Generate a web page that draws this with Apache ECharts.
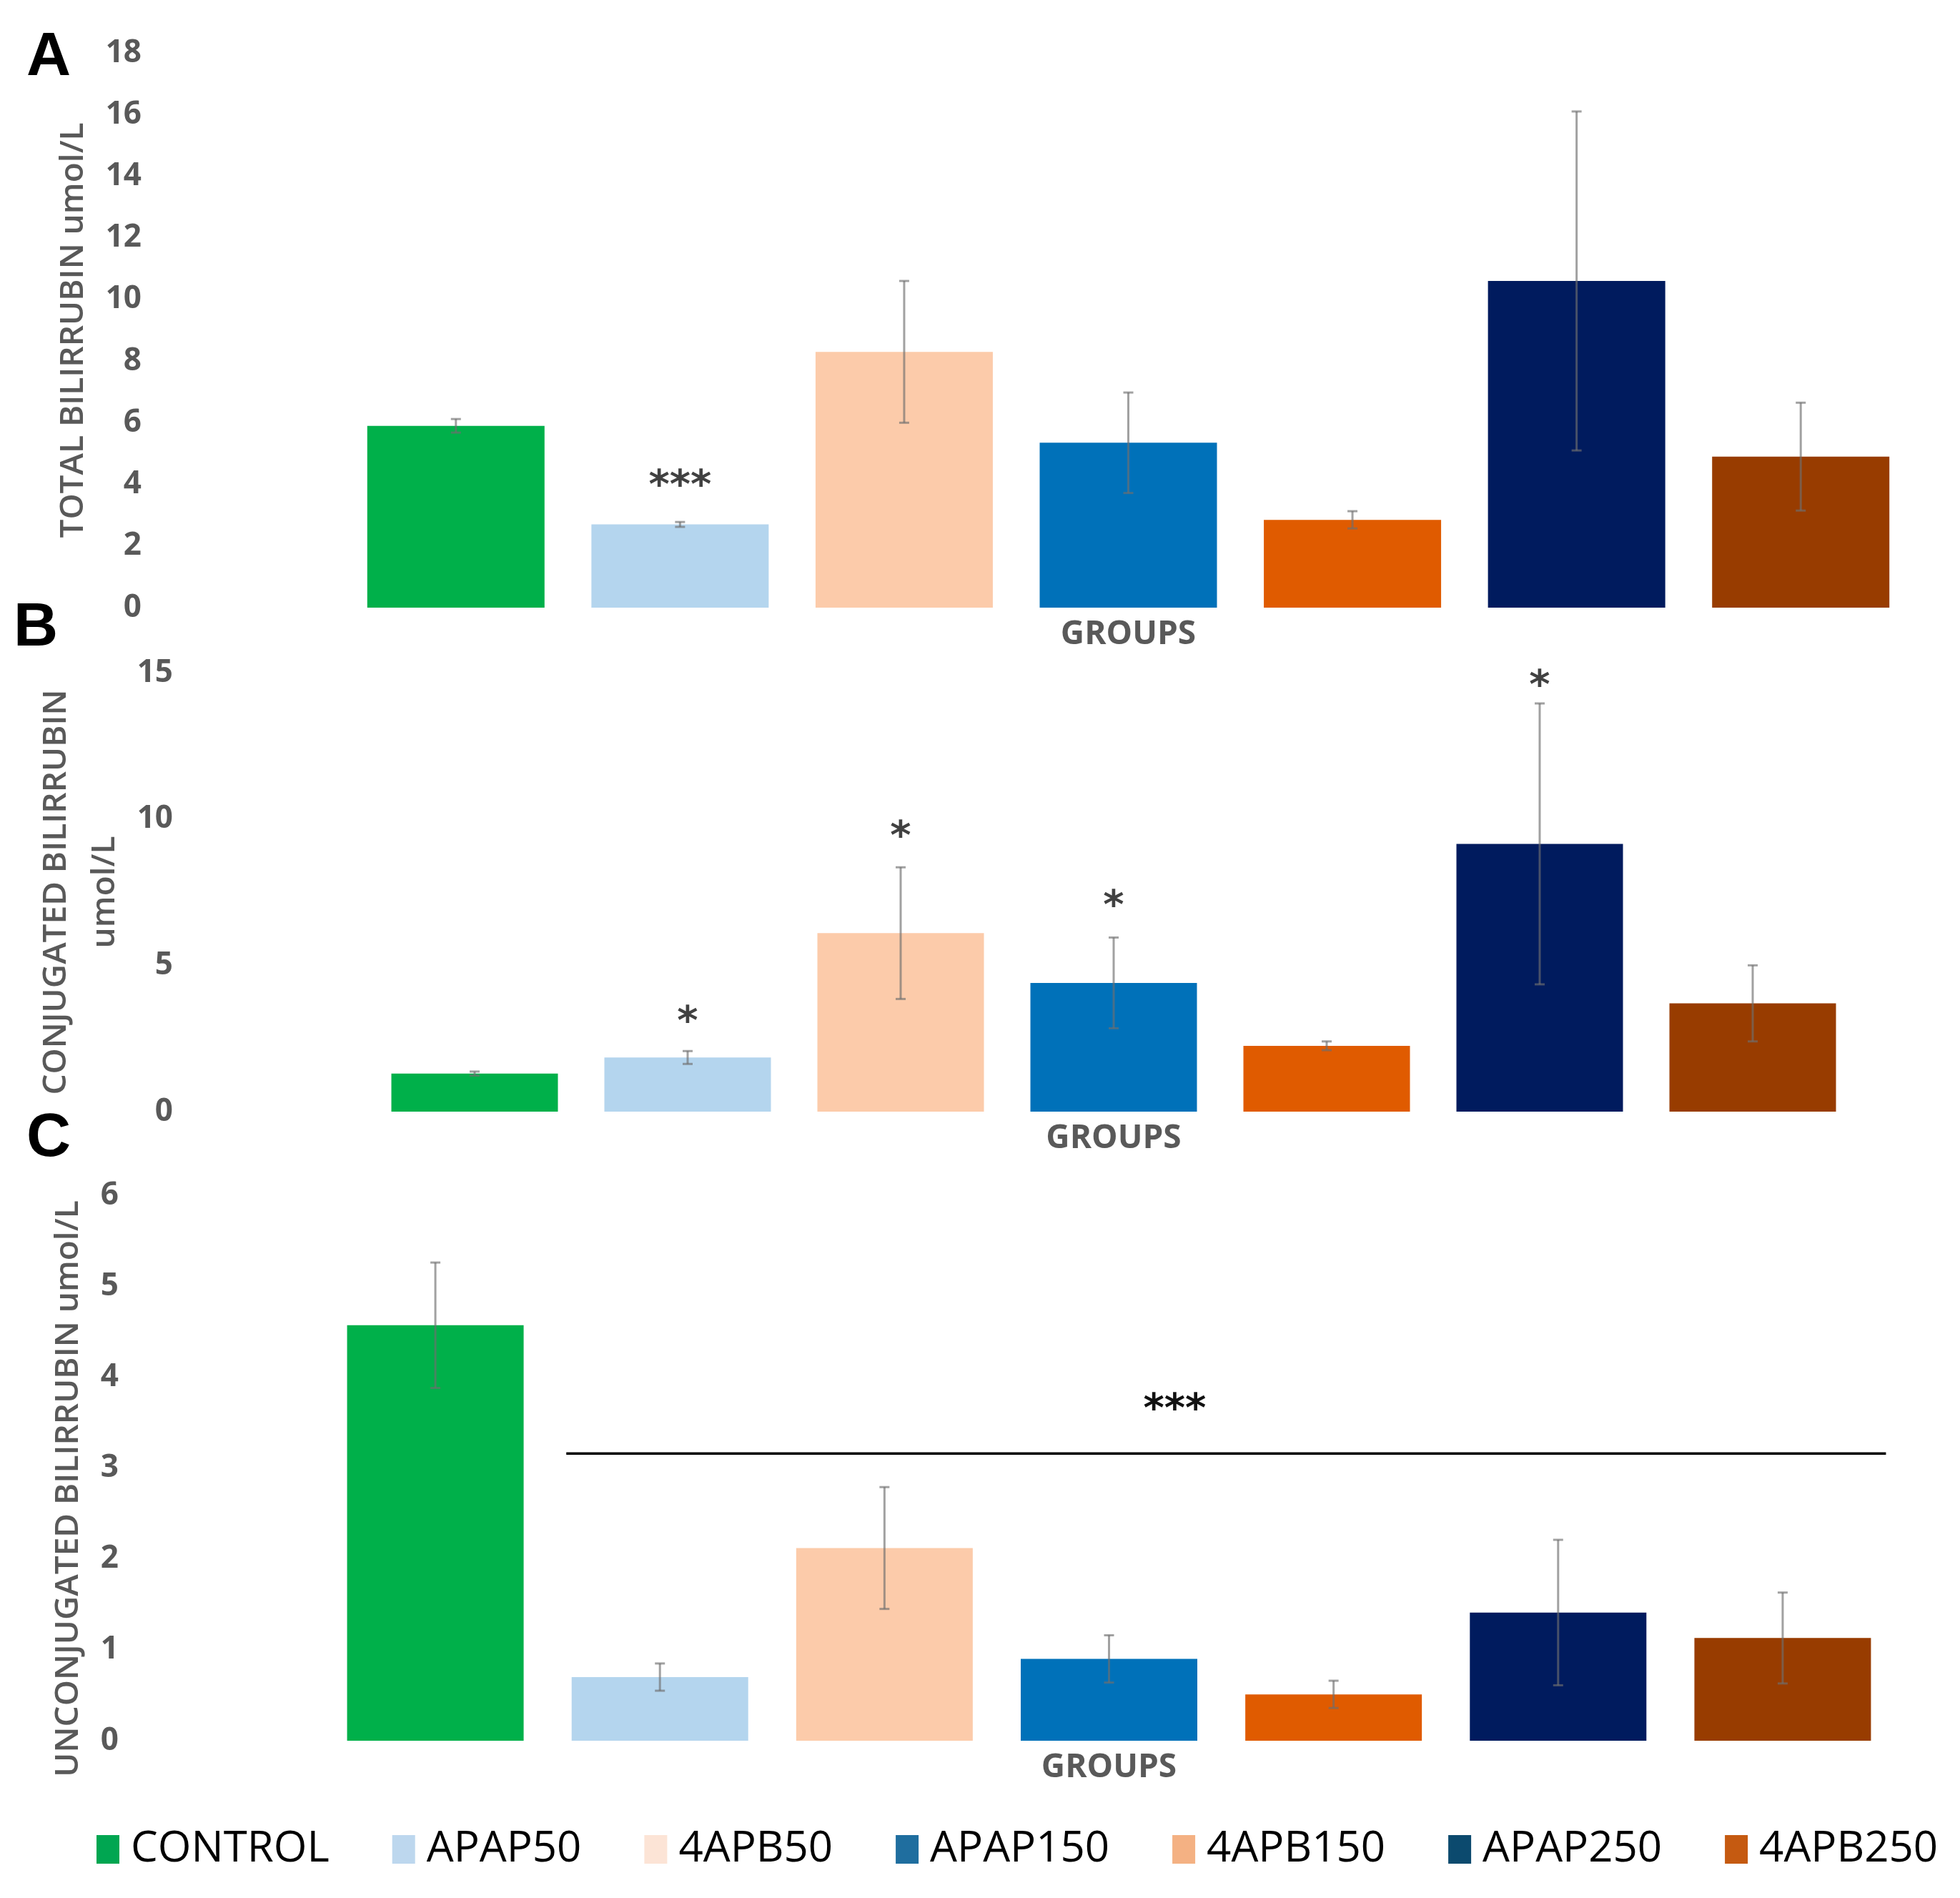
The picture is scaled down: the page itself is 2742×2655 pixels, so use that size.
<!DOCTYPE html>
<html>
<head>
<meta charset="utf-8">
<script src="https://cdn.jsdelivr.net/npm/echarts@6/dist/echarts.min.js"></script>
<style>
html,body{margin:0;padding:0;background:#fff;}
#chart{width:2742px;height:2655px;}
</style>
</head>
<body>
<div id="chart"></div>
<script>
// ---------------- data ----------------
const categories = ['CONTROL', 'APAP50', '4APB50', 'APAP150', '4APB150', 'APAP250', '4APB250'];

const totalMean   = [5.9, 2.7, 8.3, 5.35, 2.85, 10.6, 4.9];
const totalErr    = [0.22, 0.08, 2.3, 1.63, 0.28, 5.5, 1.75];
const conjMean    = [1.3, 1.85, 6.1, 4.4, 2.25, 9.15, 3.7];
const conjErr     = [0.07, 0.22, 2.25, 1.55, 0.15, 4.8, 1.3];
const unconjMean  = [4.57, 0.7, 2.12, 0.9, 0.51, 1.41, 1.13];
const unconjErr   = [0.69, 0.15, 0.67, 0.26, 0.15, 0.8, 0.5];

const totalStarCat  = [1];
const totalStarY    = [4.13];
const totalStarText = ['***'];
const conjStarCat   = [1, 2, 3, 5];
const conjStarY     = [3.27, 9.58, 7.23, 14.75];
const conjStarText  = ['*', '*', '*', '*'];

// significance bracket in panel C: from category 1 to category 6 at y
const sigFrom = 1, sigTo = 6, sigY = 3.16, sigLabelY = 3.71, sigText = '***';

const yTicksA = {min: 0, max: 18, interval: 2};
const yTicksB = {min: 0, max: 15, interval: 5};
const yTicksC = {min: 0, max: 6, interval: 1};

// ---------------- styles ----------------
const barColors    = ['#00B04A', '#B4D5EE', '#FCCBAA', '#0071B9', '#E05B00', '#001B5E', '#983C00'];
const legendColors = ['#00A651', '#BDD7EE', '#FCE4D6', '#1F6E9F', '#F4B183', '#0C4A6E', '#C55A11'];
const gray = '#595959';
const errColor = 'rgba(110,110,110,0.65)';
const starFont = 56, starShift = 10;

const panels = [
  {mean: totalMean, err: totalErr, ticks: yTicksA, grid: {left: 481, top: 74, width: 2195, height: 776},
   barWidth: 248, name: 'TOTAL BILIRRUBIN umol/L', nameGap: 330, labelMargin: 283, namePad: [0,0,0,0],
   starCat: totalStarCat, starY: totalStarY, starText: totalStarText},
  {mean: conjMean, err: conjErr, ticks: yTicksB, grid: {left: 515, top: 941, width: 2086, height: 614},
   barWidth: 233, name: 'CONJUGATED BILIRRUBIN\numol/L', nameGap: 322, labelMargin: 273, namePad: [0,0,0,0],
   starCat: conjStarCat, starY: conjStarY, starText: conjStarText},
  {mean: unconjMean, err: unconjErr, ticks: yTicksC, grid: {left: 452, top: 1672, width: 2199, height: 763},
   barWidth: 247, name: 'UNCONJUGATED BILIRRUBIN umol/L', nameGap: 301, labelMargin: 286, namePad: [0,58,0,0],
   starCat: [], starY: [], starText: []}
];

const grids = [], xAxes = [], yAxes = [], series = [];

panels.forEach((p, pi) => {
  grids.push(Object.assign({containLabel: false}, p.grid));
  xAxes.push({
    type: 'category', gridIndex: pi, data: categories,
    axisLine: {show: false}, axisTick: {show: false}, axisLabel: {show: false}, splitLine: {show: false},
    name: 'GROUPS', nameLocation: 'middle', nameGap: 15,
    nameTextStyle: {fontFamily: 'Open Sans', fontWeight: 'bold', fontSize: 46, color: gray}
  });
  yAxes.push({
    type: 'value', gridIndex: pi, min: p.ticks.min, max: p.ticks.max, interval: p.ticks.interval,
    axisLine: {show: false}, axisTick: {show: false}, splitLine: {show: false},
    axisLabel: {fontFamily: 'Open Sans', fontWeight: 'bold', fontSize: 44, color: gray, margin: p.labelMargin},
    name: p.name, nameLocation: 'middle', nameRotate: 90, nameGap: p.nameGap,
    nameTextStyle: {fontFamily: 'Open Sans', fontWeight: 600, fontSize: 46, color: gray, lineHeight: 68,
                    align: 'center', padding: p.namePad}
  });

  categories.forEach((name, g) => {
    series.push({
      type: 'bar', name: name, xAxisIndex: pi, yAxisIndex: pi,
      barWidth: p.barWidth, barGap: '-100%',
      itemStyle: {color: barColors[g]},
      emphasis: {disabled: true},
      data: categories.map((c, i) => i === g ? p.mean[i] : '-')
    });
  });

  series.push({
    type: 'custom', name: 'err' + pi, xAxisIndex: pi, yAxisIndex: pi, z: 10,
    silent: true,
    data: p.mean.map((m, i) => [i, m - p.err[i], m + p.err[i]]),
    renderItem: function (params, api) {
      const x = api.value(0);
      const hi = api.coord([x, api.value(2)]);
      const lo = api.coord([x, api.value(1)]);
      const cap = 7;
      const st = {stroke: errColor, lineWidth: 3};
      return {type: 'group', children: [
        {type: 'line', shape: {x1: hi[0], y1: hi[1], x2: lo[0], y2: lo[1]}, style: st},
        {type: 'line', shape: {x1: hi[0] - cap, y1: hi[1], x2: hi[0] + cap, y2: hi[1]}, style: st},
        {type: 'line', shape: {x1: lo[0] - cap, y1: lo[1], x2: lo[0] + cap, y2: lo[1]}, style: st}
      ]};
    }
  });

  if (p.starCat.length) {
    series.push({
      type: 'scatter', name: 'stars' + pi, xAxisIndex: pi, yAxisIndex: pi, z: 11,
      symbolSize: 1, itemStyle: {color: 'rgba(0,0,0,0)'}, silent: true, clip: false,
      data: p.starCat.map((c, i) => ({value: [c, p.starY[i]], label: {formatter: p.starText[i]}})),
      label: {show: true, position: 'inside', offset: [0, starShift], color: '#111',
              fontFamily: 'DejaVu Sans', fontWeight: 'bold', fontSize: starFont}
    });
  }
});

// significance bracket (panel C)
series.push({
  type: 'custom', name: 'sig', xAxisIndex: 2, yAxisIndex: 2, z: 12, silent: true,
  data: [[sigFrom, sigTo, sigY, sigLabelY]],
  renderItem: function (params, api) {
    const band = api.size([1, 0])[0];
    const a = api.coord([api.value(0), api.value(2)]);
    const b = api.coord([api.value(1), api.value(2)]);
    const x1 = a[0] - 0.417 * band, x2 = b[0] + 0.46 * band;
    const ly = api.coord([api.value(0), api.value(3)])[1];
    return {type: 'group', children: [
      {type: 'line', shape: {x1: x1, y1: a[1], x2: x2, y2: a[1]}, style: {stroke: '#000', lineWidth: 3.5}},
      {type: 'text', style: {text: sigText, x: x1 + 0.461 * (x2 - x1), y: ly + starShift, align: 'center', verticalAlign: 'middle',
        fill: '#111', font: 'bold ' + starFont + 'px "DejaVu Sans"'}}
    ]};
  }
});

const option = {
  animation: false,
  backgroundColor: '#fff',
  textStyle: {fontFamily: 'Open Sans'},
  grid: grids,
  xAxis: xAxes,
  yAxis: yAxes,
  legend: {
    left: 130, top: 2552, orient: 'horizontal',
    itemWidth: 32, itemHeight: 40, itemGap: 88, icon: 'rect',
    selectedMode: false,
    textStyle: {fontFamily: 'Open Sans', fontSize: 60, color: '#000', padding: [0, 0, 0, 11]},
    data: categories.map((n, i) => ({name: n, itemStyle: {color: legendColors[i]}}))
  },
  graphic: [
    {type: 'text', left: 37, top: 38, style: {text: 'A', font: 'bold 86px "Liberation Sans"', fill: '#000'}},
    {type: 'text', left: 19, top: 836, style: {text: 'B', font: 'bold 86px "Liberation Sans"', fill: '#000'}},
    {type: 'text', left: 37, top: 1550, style: {text: 'C', font: 'bold 86px "Liberation Sans"', fill: '#000'}}
  ],
  series: series
};

const chart = echarts.init(document.getElementById('chart'), null, {renderer: 'canvas'});
chart.setOption(option);
</script>
</body>
</html>
